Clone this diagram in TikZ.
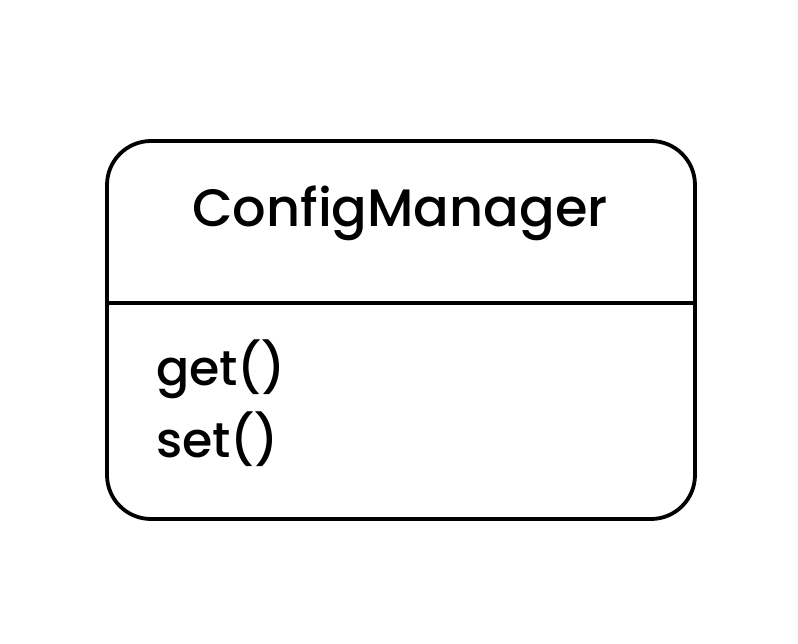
\documentclass[tikz,border=0pt]{standalone}
\usepackage{fontspec}
\setmainfont{Poppins}[UprightFont={* Medium}]
\usetikzlibrary{positioning}

\tikzset{
	classbox/.style={draw, line width=3.8pt, rounded corners=44pt, minimum width=588pt, minimum height=378pt, inner sep=0pt},
	classname/.style={font=\fontsize{52.6}{60}\selectfont, inner sep=0pt},
	methodname/.style={font=\fontsize{49}{60}\selectfont, inner sep=0pt, anchor=base west}
}

\begin{document}
\begin{tikzpicture}[x=1pt,y=-1pt]
		\useasboundingbox (0,0) rectangle (798,644);
		\node[classbox] (box) at (401,330) {};
		\coordinate (divider) at (401,303);
		\draw[line width=3.8pt] (box.west |- divider) -- (box.east |- divider);
		\node[classname] (name) at (400,213) {ConfigManager};
		\node[methodname] (get) at (156,385) {get()};
		\node[methodname] (set) at (156,457) {set()};
	\end{tikzpicture}
\end{document}
